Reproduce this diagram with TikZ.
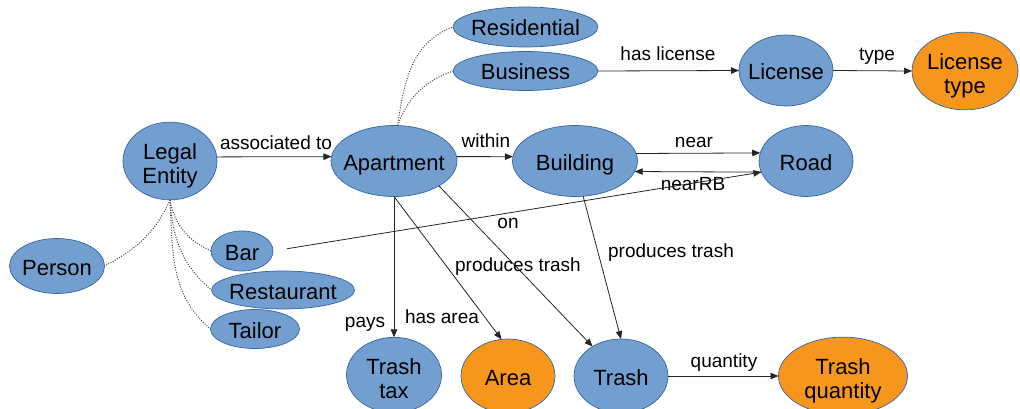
\documentclass[tikz,border=0pt]{standalone}
\usepackage{fontspec}
\setmainfont{Liberation Sans}
\usetikzlibrary{shapes.geometric,arrows.meta}
\definecolor{nblue}{HTML}{729FCF}
\definecolor{nborder}{HTML}{3465A4}
\definecolor{norange}{HTML}{F7961D}
\definecolor{dotc}{HTML}{444444}
\newcommand\mytwo[2]{\rule{0pt}{1.2em}#1\\#2\rule[-0.13em]{0pt}{0pt}}
\begin{document}
\begin{tikzpicture}[x=1pt,y=1pt,
 blob/.style={ellipse, draw=nborder, line width=0.7pt, fill=nblue, inner xsep=-60pt, inner ysep=0pt, outer sep=0pt, font=\fontsize{22}{24}\selectfont},
 one/.style={text height=21pt, text depth=3pt},
 two/.style={align=center},
 orng/.style={fill=norange},
 rel/.style={draw=black!85, line width=0.8pt, -{Triangle[length=8pt,width=6.5pt]}},
 lbl/.style={font=\fontsize{19}{22}\selectfont, anchor=base, inner sep=0pt},
 dotl/.style={draw=dotc, line width=1pt, dash pattern=on 1pt off 1.5pt},
]
\useasboundingbox (0,0) rectangle (1020,408);

% nodes
\node[blob, one, minimum width=145pt, minimum height=40pt] (res) at (525.5,381) {Residential};
\node[blob, one, minimum width=145pt, minimum height=39pt] (bus) at (525.5,337) {Business};
\node[blob, one, minimum width=94pt, minimum height=71pt] (lic) at (786,337.5) {License};
\node[blob, two, orng, minimum width=106pt, minimum height=70pt] (lt) at (965,337) {\mytwo{License}{type}};
\node[blob, two, minimum width=94pt, minimum height=72pt] (le) at (170,247) {\mytwo{Legal}{Entity}};
\node[blob, one, minimum width=126pt, minimum height=71pt] (apt) at (394,247) {Apartment};
\node[blob, one, minimum width=125pt, minimum height=71pt] (bld) at (575,247) {Building};
\node[blob, one, minimum width=94pt, minimum height=71pt] (road) at (806,247) {Road};
\node[blob, one, minimum width=95pt, minimum height=55pt] (per) at (57,142) {Person};
\node[blob, one, minimum width=62pt, minimum height=40pt] (bar) at (242,157) {Bar};
\node[blob, one, minimum width=143pt, minimum height=38pt] (rest) at (283,118) {Restaurant};
\node[blob, one, minimum width=89pt, minimum height=39pt] (tail) at (255,79) {Tailor};
\node[blob, two, minimum width=95pt, minimum height=74pt] (tt) at (394,33) {\mytwo{Trash}{tax}};
\node[blob, one, orng, minimum width=94pt, minimum height=74pt] (area) at (508,32) {Area};
\node[blob, one, minimum width=94pt, minimum height=74pt] (trash) at (621,32) {Trash};
\node[blob, two, orng, minimum width=129pt, minimum height=74pt] (tq) at (843,32) {\mytwo{Trash}{quantity}};

% dotted subclass links
\draw[dotl] (apt.84) to[out=82, in=200] (res.west);
\draw[dotl] (apt.84) to[out=70, in=200] (bus.west);
\draw[dotl] (le.south) to[out=246, in=28] (per.east);
\draw[dotl] (le.south) to[out=-80, in=155] (bar.west);
\draw[dotl] (le.south) to[out=-86, in=140] (rest.west);
\draw[dotl] (le.south) to[out=-87, in=140] (tail.west);

% relations
\draw[rel] (le.5) -- (apt.176) node[lbl] at (276,259) {associated to};
\draw[rel] (apt.4) -- (bld.176) node[lbl] at (486,261) {within};
\draw[rel] (bld.7) -- (road.170) node[lbl] at (694,261) {near};
\draw[rel] (road.194) -- (bld.-10) node[lbl] at (693,218) {nearRB};
\draw[rel] (bus.east) -- (lic.west) node[lbl] at (668,348) {has license};
\draw[rel] (lic.east) -- (lt.west) node[lbl] at (877,347) {type};
\draw[rel] (trash.east) -- (tq.west) node[lbl] at (724,41) {quantity};
\draw[rel, shorten <=14pt] (bar.east) -- (road.194) node[lbl] at (508,180) {on};
\draw[rel] (apt.-29) -- (trash.134) node[lbl] at (518,137) {produces trash};
\draw[rel] (bld.-77) -- (trash.north) node[lbl] at (671,151) {produces trash};
\draw[rel] (apt.south) -- (tt.north) node[lbl] at (365,81) {pays};
\draw[rel] (apt.south) -- (area.100) node[lbl] at (442,85) {has area};
\end{tikzpicture}
\end{document}
